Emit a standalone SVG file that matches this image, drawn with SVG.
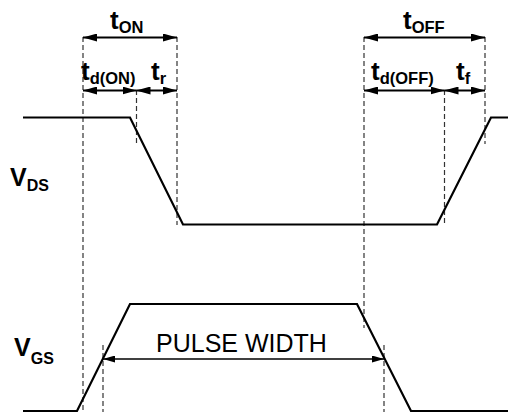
<svg xmlns="http://www.w3.org/2000/svg" width="508" height="416" viewBox="0 0 508 416">
<defs>
<style>
.wave{fill:none;stroke:#000;stroke-width:2.2;stroke-linejoin:miter}
.dash{stroke:#333;stroke-width:1.2;stroke-dasharray:5,3;fill:none}
.dim{stroke:#000;stroke-width:2;fill:none}
.pw{stroke:#000;stroke-width:1.6;fill:none}
.t{font-family:"Liberation Sans",Arial,sans-serif;font-weight:bold;font-size:26px;fill:#000}
.s{font-family:"Liberation Sans",Arial,sans-serif;font-weight:bold;font-size:16.5px;fill:#000}
.v{font-family:"Liberation Sans",Arial,sans-serif;font-weight:bold;font-size:25px;fill:#000}
.vs{font-family:"Liberation Sans",Arial,sans-serif;font-weight:bold;font-size:16px;fill:#000}
.lbl{font-family:"Liberation Sans",Arial,sans-serif;font-size:25px;fill:#000}
</style>
<marker id="ah" viewBox="0 0 14 8" refX="14" refY="4" markerWidth="14" markerHeight="8" markerUnits="userSpaceOnUse" orient="auto-start-reverse">
<path d="M0,0 L14,4 L0,8 Z" fill="#000"/>
</marker>
<marker id="ah2" viewBox="0 0 12 7" refX="12" refY="3.5" markerWidth="12" markerHeight="7" markerUnits="userSpaceOnUse" orient="auto-start-reverse">
<path d="M0,0 L12,3.5 L0,7 Z" fill="#000"/>
</marker>
</defs>
<g id="guides">
<line class="dash" x1="83" y1="37" x2="83" y2="412"/>
<line class="dash" x1="136.5" y1="90" x2="136.5" y2="144"/>
<line class="dash" x1="177" y1="37" x2="177" y2="225"/>
<line class="dash" x1="364" y1="37" x2="364" y2="328"/>
<line class="dash" x1="444.5" y1="90" x2="444.5" y2="225"/>
<line class="dash" x1="485" y1="37" x2="485" y2="144"/>
<line class="dash" x1="103" y1="345" x2="103" y2="412"/>
<line class="dash" x1="384" y1="345" x2="384" y2="412"/>
</g>
<g id="waveforms">
<polyline id="vds" class="wave" points="23,117.5 130,117.5 183,224.5 437,224.5 491,117.5 508,117.5"/>
<polyline id="vgs" class="wave" points="23,411 77,411 130,304 357,304 411,411 508,411"/>
</g>
<g id="connectors">
<line class="dim" x1="83" y1="37.5" x2="177" y2="37.5" marker-start="url(#ah)" marker-end="url(#ah)"/>
<line class="dim" x1="83" y1="90.5" x2="136.5" y2="90.5" marker-start="url(#ah)" marker-end="url(#ah)"/>
<line class="dim" x1="136.5" y1="90.5" x2="177" y2="90.5" marker-start="url(#ah)" marker-end="url(#ah)"/>
<line class="dim" x1="364" y1="37.5" x2="485" y2="37.5" marker-start="url(#ah)" marker-end="url(#ah)"/>
<line class="dim" x1="364" y1="90.5" x2="444.5" y2="90.5" marker-start="url(#ah)" marker-end="url(#ah)"/>
<line class="dim" x1="444.5" y1="90.5" x2="485" y2="90.5" marker-start="url(#ah)" marker-end="url(#ah)"/>
<line class="pw" x1="103" y1="359" x2="384" y2="359" marker-start="url(#ah2)" marker-end="url(#ah2)"/>
</g>
<g id="labels">
<text class="t" x="110" y="29">t<tspan class="s" dy="4">ON</tspan></text>
<text class="t" x="81" y="80">t<tspan class="s" dy="4">d(ON)</tspan></text>
<text class="t" x="151" y="80">t<tspan class="s" dy="4">r</tspan></text>
<text class="t" x="403" y="29">t<tspan class="s" dy="4">OFF</tspan></text>
<text class="t" x="371" y="80">t<tspan class="s" dy="4">d(OFF)</tspan></text>
<text class="t" x="456" y="80">t<tspan class="s" dy="4">f</tspan></text>
<text class="v" x="10" y="186">V<tspan class="vs" dy="5">DS</tspan></text>
<text class="v" x="14" y="356">V<tspan class="vs" dy="8">GS</tspan></text>
<text class="lbl" x="241.5" y="352" text-anchor="middle">PULSE WIDTH</text>
</g>
</svg>
